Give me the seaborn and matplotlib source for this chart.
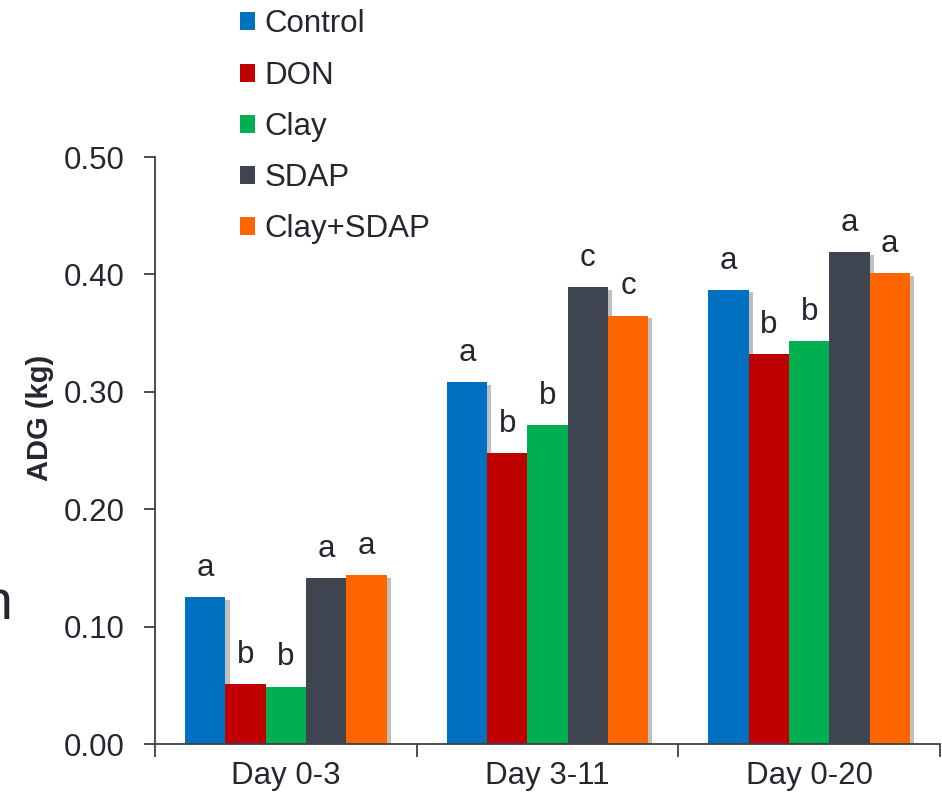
import pandas as pd
import matplotlib.pyplot as plt
import matplotlib.patheffects as pe
from matplotlib.patches import Patch
import seaborn as sns

# Dados
periodos = ["Day 0-3", "Day 3-11", "Day 0-20"]
tratamentos = ["Control", "DON", "Clay", "SDAP", "Clay+SDAP"]
adg_control = [0.125, 0.308, 0.387]
adg_don = [0.051, 0.248, 0.332]
adg_clay = [0.049, 0.272, 0.343]
adg_sdap = [0.141, 0.389, 0.419]
adg_clay_sdap = [0.144, 0.365, 0.401]
letras_control = ["a", "a", "a"]
letras_don = ["b", "b", "b"]
letras_clay = ["b", "b", "b"]
letras_sdap = ["a", "c", "a"]
letras_clay_sdap = ["a", "c", "a"]

cores = ["#0070C0", "#C00000", "#00B050", "#3F4550", "#FF6600"]
cor_texto = "#262630"
fs = 22.5

valores = [adg_control, adg_don, adg_clay, adg_sdap, adg_clay_sdap]
letras = [letras_control, letras_don, letras_clay, letras_sdap, letras_clay_sdap]

linhas = []
for t, vals, lets in zip(tratamentos, valores, letras):
    for p, v, l in zip(periodos, vals, lets):
        linhas.append({"periodo": p, "tratamento": t, "adg": v, "letra": l})
df = pd.DataFrame(linhas)

sns.set_style("white")
plt.rcParams["font.family"] = ["Liberation Sans", "DejaVu Sans"]

fig = plt.figure(figsize=(9.42, 7.99), dpi=100)
ax = fig.add_axes([0.1645, 0.0688, 0.8335, 0.7347])

sns.barplot(data=df, x="periodo", y="adg", hue="tratamento", order=periodos,
            hue_order=tratamentos, palette=cores, width=0.77, gap=0,
            saturation=1, errorbar=None, legend=False, ax=ax)

sombra = [pe.SimplePatchShadow(offset=(3, -2), shadow_rgbFace="k", alpha=0.25), pe.Normal()]
for i, t in enumerate(tratamentos):
    cont = ax.containers[i]
    for barra, l in zip(cont, letras[i]):
        barra.set_linewidth(0)
        barra.set_path_effects(sombra)
        ax.text(barra.get_x() + barra.get_width() / 2, barra.get_height() + 0.012, l,
                ha="center", va="bottom", fontsize=fs, color=cor_texto)

ax.set_xlim(-0.5, 2.5)
ax.set_ylim(0, 0.5)
ax.set_yticks([0, 0.1, 0.2, 0.3, 0.4, 0.5])
ax.set_yticklabels([f"{v:.2f}" for v in [0, 0.1, 0.2, 0.3, 0.4, 0.5]])
ax.set_xticks([0, 1, 2])
ax.set_xticklabels(periodos)
ax.set_xticks([-0.5, 0.5, 1.5, 2.5], minor=True)
ax.tick_params(axis="x", which="major", length=0, pad=12, labelsize=fs, labelcolor=cor_texto)
ax.tick_params(axis="x", which="minor", length=9, width=1.3, color="#404040", direction="out", bottom=True)
ax.tick_params(axis="y", length=8, width=1.3, color="#404040", direction="out", left=True,
               labelsize=fs, labelcolor=cor_texto, pad=14)
ax.set_xlabel("")
ax.set_ylabel("ADG (kg)", fontsize=21, fontweight="bold", color=cor_texto)
ax.yaxis.set_label_coords(-0.128, 0.555)
for s in ["top", "right"]:
    ax.spines[s].set_visible(False)
for s in ["left", "bottom"]:
    ax.spines[s].set_color("#404040")
    ax.spines[s].set_linewidth(1.3)

# Legenda
handles = [Patch(facecolor=c, edgecolor="none") for c in cores]
fig.legend(handles, tratamentos, loc="upper left", bbox_to_anchor=(0.248, 0.996),
           frameon=False, fontsize=fs, handlelength=0.5, handleheight=0.5,
           handletextpad=0.3, labelspacing=0.68, borderaxespad=0, borderpad=0.2,
           labelcolor=cor_texto)

# resto de caractere cortado na borda esquerda
fig.text(-0.02, 0.225, "n", fontsize=40, color=cor_texto)

fig.savefig("out.png", dpi=100)
